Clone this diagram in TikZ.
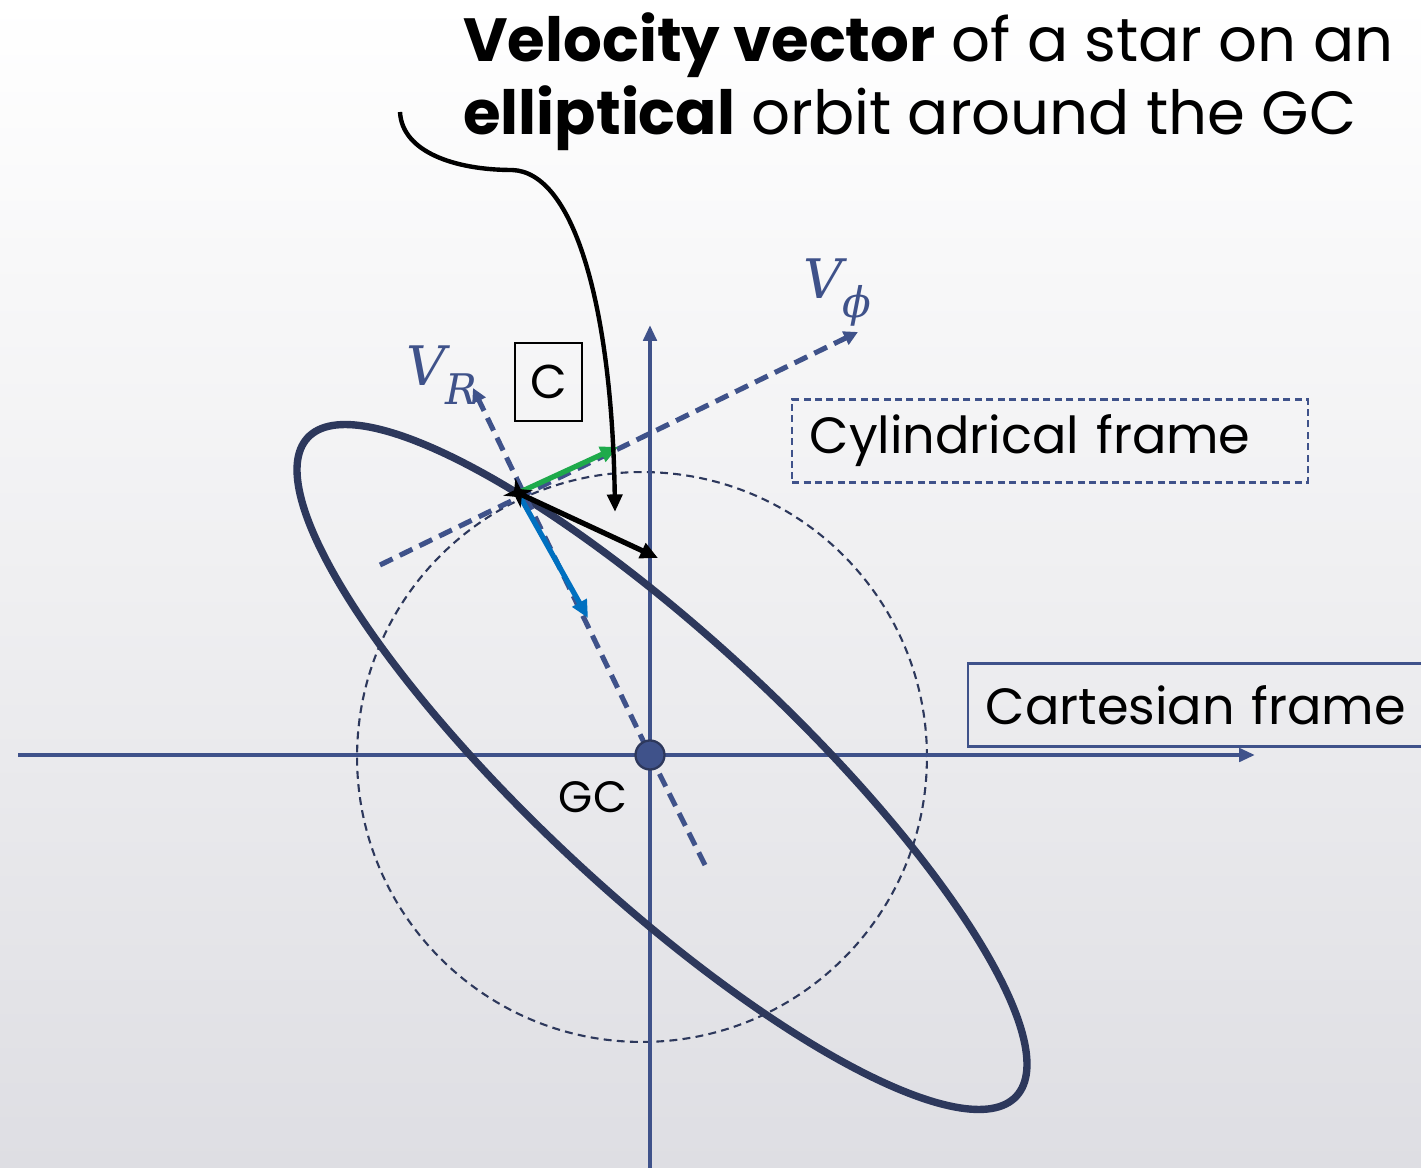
\documentclass[tikz,border=0pt]{standalone}
\usepackage{fontspec}
\setmainfont{Poppins}
\newfontfamily\vfont{DejaVu Serif}
\usetikzlibrary{arrows.meta,shapes.geometric}
\definecolor{axisblue}{RGB}{63,82,138}
\definecolor{navy}{RGB}{45,56,92}
\definecolor{vgreen}{RGB}{30,170,75}
\definecolor{vblue}{RGB}{0,112,192}
\definecolor{bgbot}{RGB}{222,222,227}
\tikzset{
  axis/.style={draw=axisblue, line width=2.3pt, -{Triangle[length=9pt,width=7.5pt]}},
  vdash/.style={draw=axisblue, line width=2.9pt, dash pattern=on 8pt off 4.5pt, -{Triangle[length=8pt,width=8pt]}},
  vec/.style={line width=3pt, -{Triangle[length=10pt,width=9pt]}},
  vlabel/.style={text=axisblue, font=\vfont\itshape\fontsize{31pt}{31pt}\selectfont, inner sep=0pt},
  framebox/.style={draw=axisblue, line width=1.3pt, inner xsep=10pt, inner ysep=7pt, font=\fontsize{29pt}{29pt}\selectfont, align=left},
}
\newcommand{\vsub}[1]{\raisebox{-0.34em}{\fontsize{24pt}{24pt}\selectfont #1}}
\begin{document}
\begin{tikzpicture}[x=0.02cm,y=-0.02cm]
\useasboundingbox (0,0) rectangle (1421,1168);
\shade[top color=white, bottom color=bgbot, middle color={rgb,255:red,239;green,239;blue,241}] (0,0) rectangle (1421,1168);

% coordinates
\coordinate (gc) at (650,755);
\coordinate (S) at (518,493);
\coordinate (xl) at (18,755);
\coordinate (xr) at (1255,755);
\coordinate (yb) at (650,1168);
\coordinate (yt) at (650,325);
\coordinate (rEnd) at (705,865);
\coordinate (rTip) at (473,388);
\coordinate (pStart) at (380,565);
\coordinate (pTip) at (858,332);
\coordinate (gTip) at (618,447);
\coordinate (bTip) at (588,618);
\coordinate (kTip) at (658,558);
\coordinate (cStart) at (400,112);
\coordinate (cEnd) at (615,512);

% dashed circle
\draw[navy, line width=1.2pt, dash pattern=on 4.5pt off 3pt] (642,757) circle [radius=5.7cm];

% axes
\draw[axis] (xl) -- (xr);
\draw[axis] (yb) -- (yt);

% ellipse orbit
\draw[navy, line width=4.2pt, rotate around={-42.9:(662,767)}] (662,767) ellipse [x radius=9.676cm, y radius=2.564cm];

% cylindrical axes
\draw[vdash] (rEnd) -- (gc) -- (rTip);
\draw[vdash] (pStart) -- (pTip);

% GC dot
\node[circle, fill=axisblue, draw=navy, line width=1.3pt, minimum size=0.58cm, inner sep=0pt] (gcdot) at (gc) {};
\node[font=\fontsize{25pt}{25pt}\selectfont, inner sep=0pt] (gclabel) at (593,797) {GC};

% velocity vectors
\draw[vec, vgreen] (S) -- (gTip);
\draw[vec, vblue] (S) -- (bTip);
\draw[vec, black] (S) -- (kTip);

% star marker
\node[star, star points=4, star point ratio=3.2, fill=black, inner sep=0pt, minimum size=0.6cm, rotate=10] (star) at (S) {};

% curved pointer
\draw[black, line width=2.5pt, -{Triangle[length=10pt,width=8.5pt]}] (cStart) .. controls (402,152) and (455,170) .. (512,170) .. controls (575,172) and (612,310) .. (cEnd);

% labels
\node[vlabel, anchor=base west] (vr) at (406,386) {V\vsub{R}};
\node[vlabel, anchor=base west] (vphi) at (803,299) {V\vsub{ϕ}};
\node[draw=black, line width=1.1pt, minimum width=1.34cm, minimum height=1.56cm, inner sep=0pt, font=\fontsize{27pt}{27pt}\selectfont] (cbox) at (548.5,382) {C};

\node[framebox, dashed, dash pattern=on 4pt off 2.5pt, anchor=west, text width=10.32cm-20pt, minimum height=1.66cm] (cyl) at (791,441) {Cylindrical frame};
\node[framebox, anchor=west, text width=9.6cm-20pt, minimum height=1.66cm] (cart) at (967,705) {Cartesian frame};

% title
\node[anchor=base west, inner sep=0pt, font=\fontsize{34.7pt}{34.7pt}\selectfont] (t1) at (463,62) {\textbf{Velocity vector} of a star on an};
\node[anchor=base west, inner sep=0pt, font=\fontsize{34.7pt}{34.7pt}\selectfont] (t2) at (463,135) {\textbf{elliptical} orbit around the GC};
\end{tikzpicture}
\end{document}
